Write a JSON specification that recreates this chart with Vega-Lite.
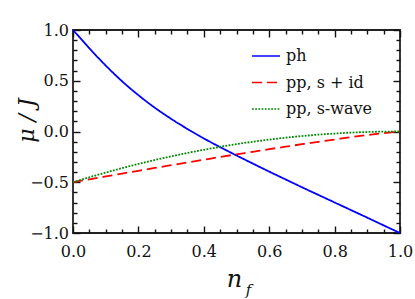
{
  "$schema": "https://vega.github.io/schema/vega-lite/v6.json",
  "width": 327,
  "height": 203,
  "autosize": "none",
  "padding": {"left": 73, "top": 30, "right": 15, "bottom": 66},
  "background": "white",
  "config": {
    "font": "DejaVu Serif",
    "view": {"stroke": "#222", "strokeWidth": 1.8},
    "style": {"guide-label": {"font": "DejaVu Serif"}, "guide-title": {"font": "DejaVu Serif"}},
    "axis": {"grid": false, "domain": false, "ticks": true, "tickColor": "#111", "tickOpacity": 1, "tickWidth": 1.4, "labelColor": "#111", "labelFontSize": 16, "labelFont": "DejaVu Serif", "titleFont": "DejaVu Serif", "labelFlush": false, "labelOverlap": false, "labelBound": false},
    "legend": {"labelFont": "DejaVu Serif"}
  },
  "data": {
    "values": [
      {"n": 0.0, "mu": 1.0, "s": "ph"},
      {"n": 0.025, "mu": 0.91, "s": "ph"},
      {"n": 0.05, "mu": 0.82, "s": "ph"},
      {"n": 0.1, "mu": 0.65, "s": "ph"},
      {"n": 0.15, "mu": 0.495, "s": "ph"},
      {"n": 0.2, "mu": 0.358, "s": "ph"},
      {"n": 0.25, "mu": 0.235, "s": "ph"},
      {"n": 0.3, "mu": 0.125, "s": "ph"},
      {"n": 0.35, "mu": 0.025, "s": "ph"},
      {"n": 0.4, "mu": -0.068, "s": "ph"},
      {"n": 0.45, "mu": -0.154, "s": "ph"},
      {"n": 0.5, "mu": -0.236, "s": "ph"},
      {"n": 0.55, "mu": -0.316, "s": "ph"},
      {"n": 0.6, "mu": -0.395, "s": "ph"},
      {"n": 0.65, "mu": -0.472, "s": "ph"},
      {"n": 0.7, "mu": -0.549, "s": "ph"},
      {"n": 0.75, "mu": -0.624, "s": "ph"},
      {"n": 0.8, "mu": -0.699, "s": "ph"},
      {"n": 0.85, "mu": -0.774, "s": "ph"},
      {"n": 0.9, "mu": -0.849, "s": "ph"},
      {"n": 0.95, "mu": -0.925, "s": "ph"},
      {"n": 1.0, "mu": -1.0, "s": "ph"},
      {"n": 0.0, "mu": -0.5, "s": "pp, s + id"},
      {"n": 0.05, "mu": -0.471, "s": "pp, s + id"},
      {"n": 0.1, "mu": -0.443, "s": "pp, s + id"},
      {"n": 0.15, "mu": -0.415, "s": "pp, s + id"},
      {"n": 0.2, "mu": -0.387, "s": "pp, s + id"},
      {"n": 0.25, "mu": -0.359, "s": "pp, s + id"},
      {"n": 0.3, "mu": -0.332, "s": "pp, s + id"},
      {"n": 0.35, "mu": -0.305, "s": "pp, s + id"},
      {"n": 0.4, "mu": -0.278, "s": "pp, s + id"},
      {"n": 0.45, "mu": -0.251, "s": "pp, s + id"},
      {"n": 0.5, "mu": -0.225, "s": "pp, s + id"},
      {"n": 0.55, "mu": -0.2, "s": "pp, s + id"},
      {"n": 0.6, "mu": -0.174, "s": "pp, s + id"},
      {"n": 0.65, "mu": -0.15, "s": "pp, s + id"},
      {"n": 0.7, "mu": -0.125, "s": "pp, s + id"},
      {"n": 0.75, "mu": -0.102, "s": "pp, s + id"},
      {"n": 0.8, "mu": -0.079, "s": "pp, s + id"},
      {"n": 0.85, "mu": -0.056, "s": "pp, s + id"},
      {"n": 0.9, "mu": -0.035, "s": "pp, s + id"},
      {"n": 0.95, "mu": -0.016, "s": "pp, s + id"},
      {"n": 1.0, "mu": 0.0, "s": "pp, s + id"},
      {"n": 0.0, "mu": -0.5, "s": "pp, s-wave"},
      {"n": 0.05, "mu": -0.451, "s": "pp, s-wave"},
      {"n": 0.1, "mu": -0.405, "s": "pp, s-wave"},
      {"n": 0.15, "mu": -0.361, "s": "pp, s-wave"},
      {"n": 0.2, "mu": -0.32, "s": "pp, s-wave"},
      {"n": 0.25, "mu": -0.281, "s": "pp, s-wave"},
      {"n": 0.3, "mu": -0.245, "s": "pp, s-wave"},
      {"n": 0.35, "mu": -0.211, "s": "pp, s-wave"},
      {"n": 0.4, "mu": -0.18, "s": "pp, s-wave"},
      {"n": 0.45, "mu": -0.151, "s": "pp, s-wave"},
      {"n": 0.5, "mu": -0.125, "s": "pp, s-wave"},
      {"n": 0.55, "mu": -0.101, "s": "pp, s-wave"},
      {"n": 0.6, "mu": -0.08, "s": "pp, s-wave"},
      {"n": 0.65, "mu": -0.061, "s": "pp, s-wave"},
      {"n": 0.7, "mu": -0.045, "s": "pp, s-wave"},
      {"n": 0.75, "mu": -0.031, "s": "pp, s-wave"},
      {"n": 0.8, "mu": -0.02, "s": "pp, s-wave"},
      {"n": 0.85, "mu": -0.011, "s": "pp, s-wave"},
      {"n": 0.9, "mu": -0.005, "s": "pp, s-wave"},
      {"n": 0.95, "mu": -0.001, "s": "pp, s-wave"},
      {"n": 1.0, "mu": 0.0, "s": "pp, s-wave"}
    ]
  },
  "layer": [
    {
      "mark": {"type": "line", "strokeWidth": 1.8, "interpolate": "monotone"},
      "encoding": {
        "x": {
          "field": "n", "type": "quantitative",
          "scale": {"domain": [0, 1], "nice": false, "zero": false},
          "axis": {
            "orient": "bottom",
            "values": [0, 0.2, 0.4, 0.6, 0.8, 1.0],
            "format": ".1f",
            "offset": -7,
            "tickSize": 7,
            "labelFont": "DejaVu Serif",
            "labelFontSize": 16,
            "labelPadding": 10,
            "title": "n",
            "titleFont": "DejaVu Serif",
            "titleFontStyle": "italic",
            "titleFontWeight": "normal",
            "titleFontSize": 24,
            "titleColor": "#111",
            "titleBaseline": "alphabetic",
            "titleX": 161,
            "titleY": 60
          }
        },
        "y": {
          "field": "mu", "type": "quantitative",
          "scale": {"domain": [-1, 1], "nice": false, "zero": false},
          "axis": {
            "orient": "left",
            "values": [-1, -0.5, 0, 0.5, 1],
            "format": ".1f",
            "offset": -7,
            "tickSize": 7,
            "labelFont": "DejaVu Serif",
            "labelFontSize": 16,
            "labelPadding": 4.5,
            "title": "μ / J",
            "titleFont": "DejaVu Serif",
            "titleFontStyle": "italic",
            "titleFontWeight": "normal",
            "titleFontSize": 22,
            "titleColor": "#111",
            "titleAngle": -90,
            "titleBaseline": "alphabetic",
            "titleX": -47,
            "titleY": 90
          }
        },
        "color": {
          "field": "s", "type": "nominal",
          "scale": {"domain": ["ph", "pp, s + id", "pp, s-wave"], "range": ["#0000ff", "#ff0000", "#008800"]},
          "legend": {
            "title": null,
            "orient": "none",
            "legendX": 178,
            "legendY": 11,
            "symbolType": "stroke",
            "symbolSize": 784,
            "symbolStrokeWidth": 1.5,
            "labelFont": "DejaVu Serif",
            "labelFontSize": 16,
            "labelColor": "#111",
            "labelOffset": 5,
            "rowPadding": 3.5
          }
        },
        "strokeDash": {
          "field": "s", "type": "nominal",
          "scale": {"domain": ["ph", "pp, s + id", "pp, s-wave"], "range": [[1, 0], [10, 5], [1.8, 1.4]]},
          "legend": {
            "title": null,
            "orient": "none",
            "legendX": 178,
            "legendY": 11,
            "symbolType": "stroke",
            "symbolSize": 784,
            "symbolStrokeWidth": 1.5,
            "labelFont": "DejaVu Serif",
            "labelFontSize": 16,
            "labelColor": "#111",
            "labelOffset": 5,
            "rowPadding": 3.5
          }
        }
      }
    },
    {
      "mark": {"type": "line", "opacity": 0},
      "encoding": {
        "x": {
          "field": "n", "type": "quantitative",
          "axis": {
            "orient": "bottom",
            "values": [0.05, 0.1, 0.15, 0.25, 0.3, 0.35, 0.45, 0.5, 0.55, 0.65, 0.7, 0.75, 0.85, 0.9, 0.95],
            "labels": false,
            "offset": -4,
            "tickSize": 4,
            "title": null
          }
        },
        "y": {
          "field": "mu", "type": "quantitative",
          "axis": {
            "orient": "left",
            "values": [-0.9, -0.8, -0.7, -0.6, -0.4, -0.3, -0.2, -0.1, 0.1, 0.2, 0.3, 0.4, 0.6, 0.7, 0.8, 0.9],
            "labels": false,
            "offset": -4,
            "tickSize": 4,
            "title": null
          }
        }
      }
    },
    {
      "mark": {"type": "line", "opacity": 0},
      "encoding": {
        "x": {
          "field": "n", "type": "quantitative",
          "axis": {
            "orient": "top",
            "values": [0, 0.2, 0.4, 0.6, 0.8, 1.0],
            "labels": false,
            "offset": -7,
            "tickSize": 7,
            "title": "f",
            "titleFont": "DejaVu Serif",
            "titleFontStyle": "italic",
            "titleFontWeight": "normal",
            "titleFontSize": 15,
            "titleColor": "#111",
            "titleBaseline": "alphabetic",
            "titleX": 175,
            "titleY": 257
          }
        },
        "y": {
          "field": "mu", "type": "quantitative",
          "axis": {
            "orient": "right",
            "values": [-1, -0.5, 0, 0.5, 1],
            "labels": false,
            "offset": -7,
            "tickSize": 7,
            "title": null
          }
        }
      }
    },
    {
      "mark": {"type": "line", "opacity": 0},
      "encoding": {
        "x": {
          "field": "n", "type": "quantitative",
          "axis": {
            "orient": "top",
            "values": [0.05, 0.1, 0.15, 0.25, 0.3, 0.35, 0.45, 0.5, 0.55, 0.65, 0.7, 0.75, 0.85, 0.9, 0.95],
            "labels": false,
            "offset": -4,
            "tickSize": 4,
            "title": null
          }
        },
        "y": {
          "field": "mu", "type": "quantitative",
          "axis": {
            "orient": "right",
            "values": [-0.9, -0.8, -0.7, -0.6, -0.4, -0.3, -0.2, -0.1, 0.1, 0.2, 0.3, 0.4, 0.6, 0.7, 0.8, 0.9],
            "labels": false,
            "offset": -4,
            "tickSize": 4,
            "title": null
          }
        }
      }
    }
  ],
  "resolve": {"axis": {"x": "independent", "y": "independent"}}
}
